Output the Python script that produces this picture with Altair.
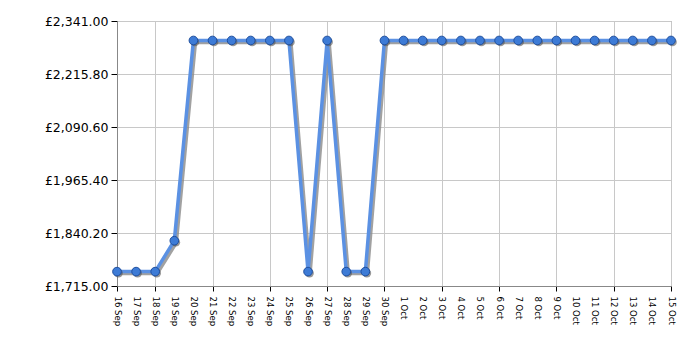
import altair as alt
import pandas as pd

dates = ["16 Sep", "17 Sep", "18 Sep", "19 Sep", "20 Sep", "21 Sep", "22 Sep", "23 Sep",
         "24 Sep", "25 Sep", "26 Sep", "27 Sep", "28 Sep", "29 Sep", "30 Sep",
         "1 Oct", "2 Oct", "3 Oct", "4 Oct", "5 Oct", "6 Oct", "7 Oct", "8 Oct",
         "9 Oct", "10 Oct", "11 Oct", "12 Oct", "13 Oct", "14 Oct", "15 Oct"]
prices = [1749, 1749, 1749, 1822, 2295, 2295, 2295, 2295,
          2295, 2295, 1749, 2295, 1749, 1749, 2295,
          2295, 2295, 2295, 2295, 2295, 2295, 2295, 2295,
          2295, 2295, 2295, 2295, 2295, 2295, 2295]
y_ticks = [1715.0, 1840.2, 1965.4, 2090.6, 2215.8, 2341.0]
grid_dates = ["16 Sep", "18 Sep", "21 Sep", "24 Sep", "27 Sep", "30 Sep",
              "3 Oct", "6 Oct", "9 Oct", "12 Oct", "15 Oct"]

df = pd.DataFrame({"date": dates, "price": prices})

test = "indexof([" + ",".join("'" + d + "'" for d in grid_dates) + "], datum.value) >= 0"

x = alt.X(
    "date:O", sort=dates,
    scale=alt.Scale(type="point", padding=0),
    axis=alt.Axis(
        title=None, labelAngle=90, labelFont="DejaVu Sans", labelFontSize=8.5,
        labelColor="#000", labelPadding=5, grid=True, gridColor="#c8c8c8",
        gridOpacity={"condition": {"test": test, "value": 1}, "value": 0},
        tickOpacity={"condition": {"test": test, "value": 1}, "value": 0},
        tickColor="#000", tickSize=5, domainColor="#888",
    ),
)
y = alt.Y(
    "price:Q",
    scale=alt.Scale(domain=[1715, 2341], nice=False, zero=False),
    axis=alt.Axis(
        title=None, values=y_ticks, labelExpr='"£" + format(datum.value, ",.2f")',
        labelFont="DejaVu Sans", labelFontSize=12.5, labelColor="#000",
        labelPadding=3, grid=True, gridColor="#c8c8c8", tickColor="#000",
        tickSize=6, domainColor="#888",
    ),
)

base = alt.Chart(df).encode(x=x, y=y)

shadow = base.mark_line(color="#8a8a8a", strokeWidth=3.5, xOffset=2, yOffset=2, opacity=0.8)
line = base.mark_line(color="#5b91e3", strokeWidth=3.5)
pshadow = base.mark_point(filled=True, size=75, color="#555", opacity=0.6, xOffset=1.5, yOffset=1.5)
points = base.mark_point(filled=True, size=75, fill="#3d7bd6", stroke="#1f4f9e",
                         strokeWidth=1, opacity=1)

chart = alt.layer(shadow, line, pshadow, points).properties(
    width=554, height=265,
    autosize=alt.AutoSizeParams(type="none"),
    padding={"left": 117, "top": 21, "right": 29, "bottom": 64},
    background="white",
).configure_view(stroke="#999")

chart.save("out.html", embed_options={"renderer": "svg", "actions": False})
